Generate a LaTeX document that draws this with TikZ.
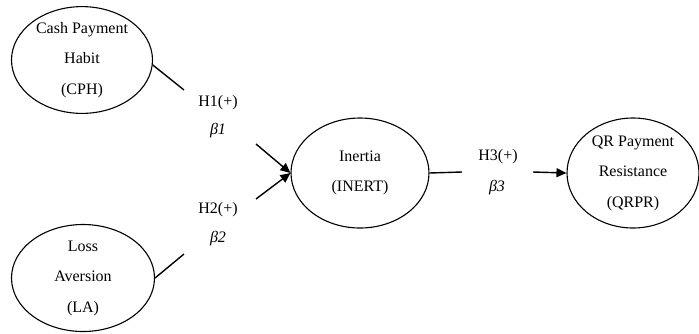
\documentclass[tikz,border=0pt]{standalone}
\usepackage{fontspec}
\setmainfont{Liberation Serif}
\usetikzlibrary{shapes.geometric,arrows.meta}
\begin{document}
\begin{tikzpicture}[x=1pt,y=-1pt,
  construct/.style={ellipse,draw,line width=1.1pt,inner sep=0pt,align=center,
    font=\fontsize{16}{30.5}\selectfont},
  conn/.style={line width=1.4pt},
  arr/.style={line width=1.4pt,-{Triangle[length=10pt,width=9pt]}},
  lab/.style={font=\fontsize{16}{18}\selectfont,inner sep=0pt}]
\useasboundingbox (0,0) rectangle (699,333);
\node[construct,minimum width=141pt,minimum height=100pt] (cph) at (82,60) {Cash Payment\\Habit\\(CPH)};
\node[construct,minimum width=143pt,minimum height=107pt] (la) at (83,278) {Loss\\Aversion\\(LA)};
\node[construct,minimum width=138pt,minimum height=110pt] (inert) at (360,173) {Inertia\\(INERT)};
\node[construct,minimum width=132pt,minimum height=110pt] (qrpr) at (633,173) {QR Payment\\Resistance\\(QRPR)};
\coordinate (c1) at (184,90);
\coordinate (c2) at (256,144);
\coordinate (c3) at (184,254);
\coordinate (c4) at (256,199);
\coordinate (c5) at (462,172);
\coordinate (c6) at (533,172);
\draw[conn] (cph.-4) -- (c1);
\draw[arr] (c2) -- (inert.west);
\draw[conn] (la.east) -- (c3);
\draw[arr] (c4) -- (inert.west);
\draw[conn] (inert.east) -- (c5);
\draw[arr] (c6) -- (qrpr.west);
\node[lab] (h1) at (218,103) {H1(+)};
\node[lab] (b1) at (218,131) {\itshape β1};
\node[lab] (h2) at (218,210) {H2(+)};
\node[lab] (b2) at (218,239) {\itshape β2};
\node[lab] (h3) at (498,157) {H3(+)};
\node[lab] (b3) at (497,188) {\itshape β3};
\end{tikzpicture}
\end{document}
